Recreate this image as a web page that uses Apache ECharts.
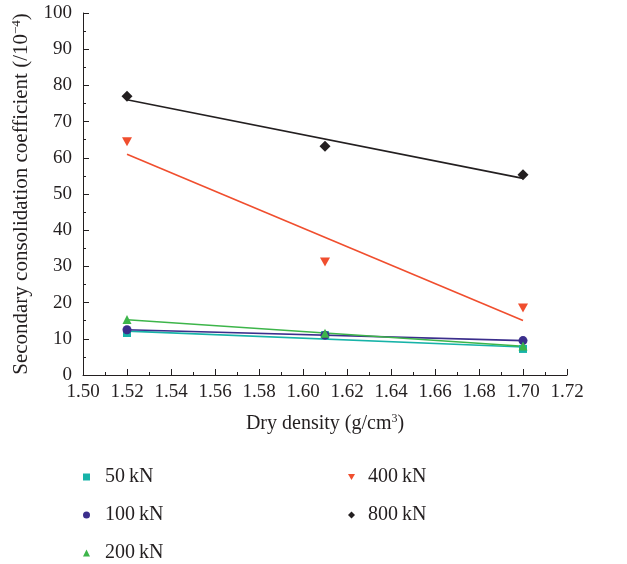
<!DOCTYPE html>
<html>
<head>
<meta charset="utf-8">
<script src="https://cdn.jsdelivr.net/npm/echarts@6/dist/echarts.min.js"></script>
<style>html,body{margin:0;padding:0;background:#fff}#c{width:627px;height:564px}</style>
</head>
<body>
<div id="c"></div>
<script>
var densities = [1.52, 1.61, 1.70];
var seriesNames = ['50\u2009kN', '100\u2009kN', '200\u2009kN', '400\u2009kN', '800\u2009kN'];
var v50 = [11.6, 11.0, 7.2];
var v100 = [12.5, 11.0, 9.5];
var v200 = [15.3, 11.5, 8.0];
var v400 = [64.4, 31.2, 18.5];
var v800 = [77.0, 63.2, 55.3];
var xTicks = ['1.50','1.52','1.54','1.56','1.58','1.60','1.62','1.64','1.66','1.68','1.70','1.72'];

var allValues = [v50, v100, v200, v400, v800];
var colors = ['#17b3a8', '#3b2e8c', '#3db54a', '#f04e2e', '#231f20'];
var symbols = ['rect', 'circle', 'triangle', 'path://M0,0 L10,0 L5,8.66 Z', 'diamond'];
var symSizes = [8, 9, 9, [10, 9], [11, 11]];

function fit(xs, ys) {
  var n = xs.length, mx = 0, my = 0, sxy = 0, sxx = 0;
  for (var i = 0; i < n; i++) { mx += xs[i]; my += ys[i]; }
  mx /= n; my /= n;
  for (var i = 0; i < n; i++) { sxy += (xs[i]-mx)*(ys[i]-my); sxx += (xs[i]-mx)*(xs[i]-mx); }
  var b = sxy / sxx, a = my - b*mx;
  return [[xs[0], a + b*xs[0]], [xs[n-1], a + b*xs[n-1]]];
}

var series = [];
allValues.forEach(function (vals, k) {
  series.push({
    name: seriesNames[k], type: 'scatter', z: 3,
    data: densities.map(function (d, i) { return [d, vals[i]]; }),
    symbol: symbols[k], symbolSize: symSizes[k],
    itemStyle: { color: colors[k], opacity: 1 }
  });
});
allValues.forEach(function (vals, k) {
  series.push({
    name: seriesNames[k] + ' fit', type: 'line', data: fit(densities, vals),
    showSymbol: false, silent: true, z: 2,
    lineStyle: { color: colors[k], width: 1.6 }
  });
});

var font = '"Liberation Serif", "DejaVu Serif", serif';
var legendBase = {
  orient: 'vertical', itemWidth: 7, itemHeight: 7, itemGap: 18, padding: 0, height: 140,
  selectedMode: false
};

var chart = echarts.init(document.getElementById('c'), null, { renderer: 'canvas' });
chart.setOption({
  animation: false,
  backgroundColor: '#fff',
  grid: { left: 83, right: 60, top: 13, bottom: 189, containLabel: false },
  legend: [
    Object.assign({}, legendBase, { left: 83, top: 467, data: seriesNames.slice(0, 3),
      textStyle: { fontFamily: font, fontSize: 20, color: '#231f20', padding: [0, 0, 0, 10] } }),
    Object.assign({}, legendBase, { left: 348, top: 467, data: seriesNames.slice(3),
      textStyle: { fontFamily: font, fontSize: 20, color: '#231f20', padding: [0, 0, 0, 8] } })
  ],
  xAxis: {
    type: 'value', min: 1.50, max: 1.72, interval: 0.02,
    name: '{n|Dry density (g/cm}{s|3}{n|)}', nameLocation: 'middle', nameGap: 38,
    nameTextStyle: { rich: {
      n: { fontFamily: font, fontSize: 20, color: '#231f20' },
      s: { fontFamily: font, fontSize: 12, color: '#231f20', verticalAlign: 'top', padding: [0,0,9,0] }
    } },
    axisLine: { show: true, lineStyle: { color: '#231f20', width: 1 } },
    axisTick: { show: true, inside: true, length: 6, lineStyle: { color: '#231f20' } },
    minorTick: { show: true, splitNumber: 2, length: 3, lineStyle: { color: '#231f20' } },
    axisLabel: { fontFamily: font, fontSize: 19, color: '#231f20', margin: 8,
      formatter: function (v) { var i = Math.round((v - 1.5) / 0.02); return xTicks[i] !== undefined ? xTicks[i] : v.toFixed(2); } },
    splitLine: { show: false }
  },
  yAxis: {
    type: 'value', min: 0, max: 100, interval: 10,
    name: '{n|Secondary consolidation coefficient (/10}{s|\u22124}{n|)}', nameLocation: 'middle', nameGap: 51, nameRotate: 90,
    nameTextStyle: { rich: {
      n: { fontFamily: font, fontSize: 21, color: '#231f20' },
      s: { fontFamily: font, fontSize: 13, color: '#231f20', verticalAlign: 'top', padding: [0,0,9,0] }
    } },
    axisLine: { show: true, lineStyle: { color: '#231f20', width: 1 } },
    axisTick: { show: true, inside: true, length: 6, lineStyle: { color: '#231f20' } },
    minorTick: { show: true, splitNumber: 2, length: 3, lineStyle: { color: '#231f20' } },
    axisLabel: { fontFamily: font, fontSize: 19, color: '#231f20', margin: 11 },
    splitLine: { show: false }
  },
  series: series
});
</script>
</body>
</html>
